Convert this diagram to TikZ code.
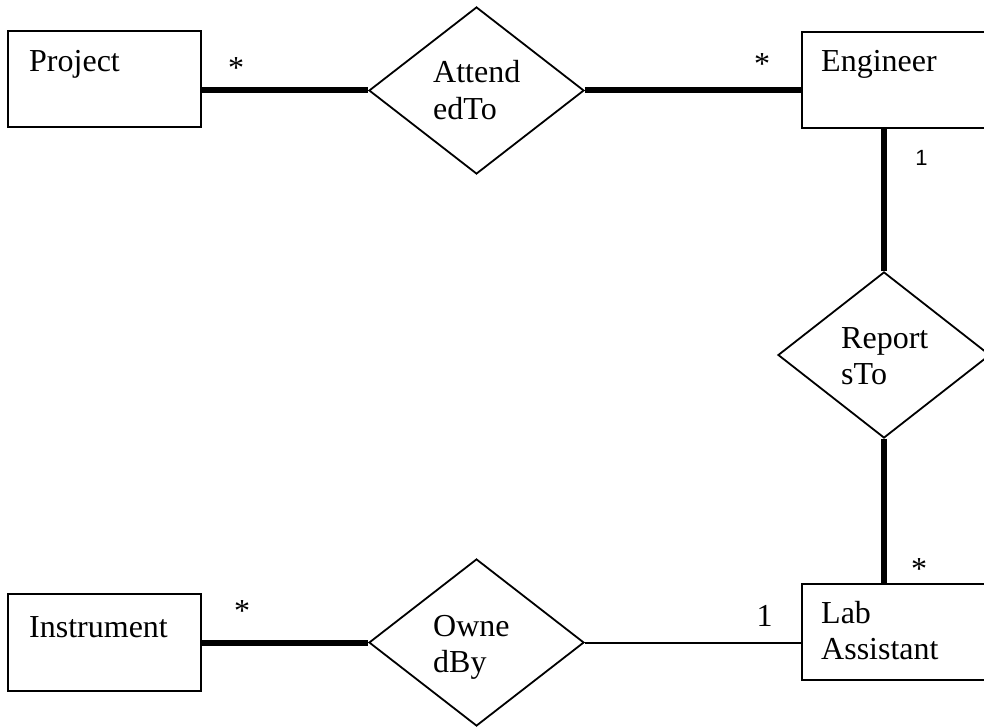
\documentclass[tikz,border=0pt]{standalone}
\usepackage{fontspec}
\setmainfont{Liberation Serif}
\newfontfamily\sansone{Liberation Sans}
\usetikzlibrary{shapes.geometric}
\begin{document}
\begin{tikzpicture}[x=1pt,y=-1pt,
  entity/.style={draw,line width=2.4pt,rectangle,inner sep=0pt},
  relation/.style={draw,line width=1.8pt,diamond,inner sep=0pt,minimum width=215pt,minimum height=167pt},
  txt/.style={anchor=base west,inner sep=0pt,font=\fontsize{32}{36}\selectfont},
  mult/.style={anchor=base,inner sep=0pt,font=\fontsize{32}{36}\selectfont},
  heavy/.style={line width=6pt},
  light/.style={line width=2pt}]
\useasboundingbox (0,0) rectangle (984,727);
\clip (0,0) rectangle (984,727);
% entities
\node[entity,minimum width=193pt,minimum height=96pt] (proj) at (104.5,79) {};
\node[entity,minimum width=200pt,minimum height=96pt,anchor=north west] (eng) at (801,31) {};
\node[entity,minimum width=200pt,minimum height=96pt,anchor=north west] (lab) at (801,583) {};
\node[entity,minimum width=193pt,minimum height=97pt] (inst) at (104.5,642.5) {};
% relationships
\node[relation] (att) at (476.5,90.5) {};
\node[relation] (own) at (476.5,642.5) {};
\node[relation,minimum width=212pt,minimum height=166pt] (rep) at (884,355) {};
% texts
\node[txt] (tproj) at (29,72) {Project};
\node[txt] (teng) at (821,72) {Engineer};
\node[txt] (tinst) at (29,637) {Instrument};
\node[txt] (tlab1) at (821,623) {Lab};
\node[txt] (tlab2) at (821,659) {Assistant};
\node[txt] (tatt1) at (433,83) {Attend};
\node[txt] (tatt2) at (433,120) {edTo};
\node[txt] (trep1) at (841,348) {Report};
\node[txt] (trep2) at (841,384) {sTo};
\node[txt] (town1) at (433,636) {Owne};
\node[txt] (town2) at (433,672) {dBy};
% connectors
\draw[heavy] (proj.east |- att.west) -- (att.west);
\draw[heavy] (att.east) -- (att.east -| eng.west);
\draw[heavy] (inst.east |- own.west) -- (own.west);
\draw[light] (own.east) -- (own.east -| lab.west);
\draw[heavy] (rep.north) -- (rep.north |- eng.south);
\draw[heavy] (rep.south) -- (rep.south |- lab.north);
% multiplicities
\node[mult] (m1) at (236,79) {*};
\node[mult] (m2) at (762,75) {*};
\node[anchor=base,inner sep=0pt,font=\sansone\fontsize{22}{26}\selectfont] (m3) at (921.5,166) {1};
\node[mult] (m4) at (242,621) {*};
\node[mult] (m5) at (919,579) {*};
\node[mult] (m6) at (764.5,626) {1};
\end{tikzpicture}
\end{document}
